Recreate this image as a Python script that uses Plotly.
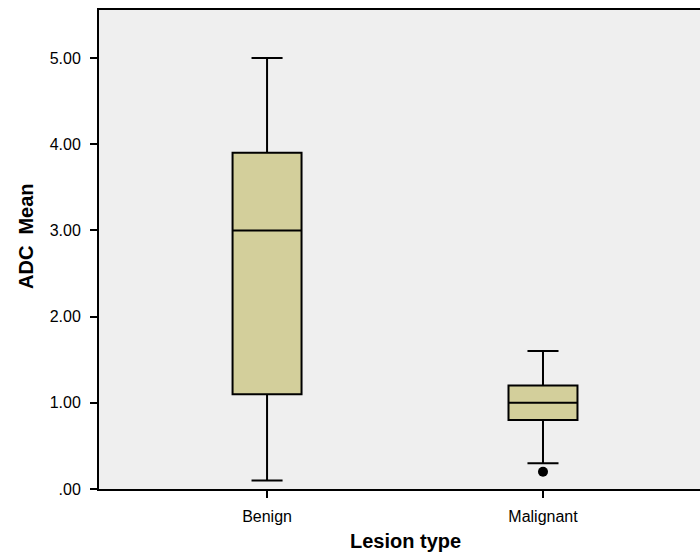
import plotly.graph_objects as go

categories = ["Benign", "Malignant"]
q1 = [1.10, 0.80]
median = [3.00, 1.00]
q3 = [3.90, 1.20]
lower_whisker = [0.10, 0.30]
upper_whisker = [5.00, 1.60]
outlier_cat = ["Malignant"]
outlier_val = [0.20]
ytick_vals = [0, 1, 2, 3, 4, 5]
ytick_text = [".00", "1.00", "2.00", "3.00", "4.00", "5.00"]

fig = go.Figure()
fig.add_trace(go.Box(
    x=categories, q1=q1, median=median, q3=q3,
    lowerfence=lower_whisker, upperfence=upper_whisker,
    boxpoints=False, fillcolor="#D3CF9B",
    line=dict(color="black", width=2), width=0.25, whiskerwidth=0.45,
    showlegend=False, hoverinfo="skip",
))
fig.add_trace(go.Scatter(
    x=outlier_cat, y=outlier_val, mode="markers",
    marker=dict(color="black", size=10), showlegend=False, hoverinfo="skip",
))

fig.update_layout(
    width=700, height=553,
    margin=dict(l=99, r=0, t=10, b=64),
    paper_bgcolor="white", plot_bgcolor="#EFEFEF",
    font=dict(family="Liberation Sans, Arial, sans-serif", size=16, color="black"),
    xaxis=dict(
        type="category", range=[-0.609, 1.569], showgrid=False, zeroline=False,
        showline=True, linecolor="black", linewidth=2, mirror=True,
        ticks="outside", ticklen=7, tickwidth=2, tickcolor="black",
        tickfont=dict(size=16), ticklabelstandoff=5,
    ),
    yaxis=dict(
        range=[0, 5.557], showgrid=False, zeroline=False,
        showline=True, linecolor="black", linewidth=2,
        ticks="outside", ticklen=7, tickwidth=2, tickcolor="black",
        tickvals=ytick_vals, ticktext=ytick_text, tickfont=dict(size=16),
        ticklabelstandoff=6,
    ),
    annotations=[
        dict(text="<b>Lesion type</b>", xref="paper", yref="paper",
             x=(405 - 99) / 601, y=-(541 - 489) / 479, xanchor="center", yanchor="middle",
             showarrow=False, font=dict(size=20)),
        dict(text="<b>ADC\u00a0 Mean</b>", xref="paper", yref="paper",
             x=-(99 - 26) / 601, y=(489 - 236) / 479, xanchor="center", yanchor="middle",
             textangle=-90, showarrow=False, font=dict(size=20)),
    ],
)

fig.write_html(
    "out.html",
    config={"displayModeBar": False},
    post_script="document.body.style.margin='0';document.body.style.overflow='hidden';",
)
